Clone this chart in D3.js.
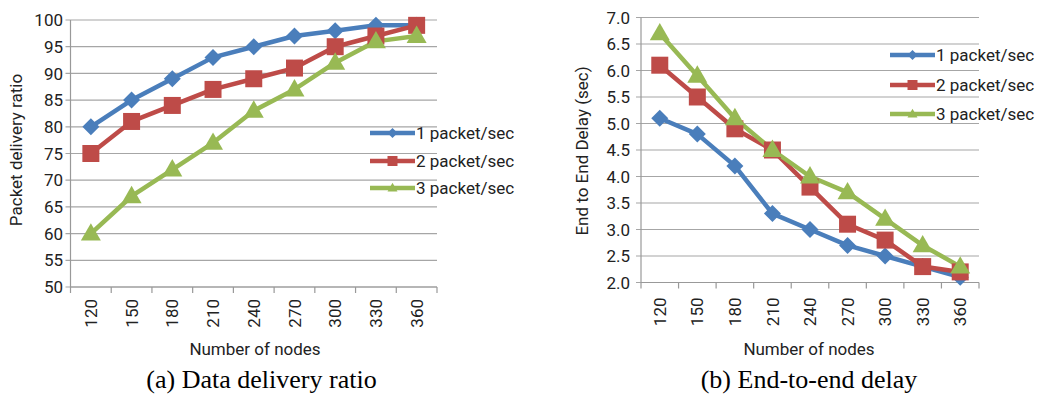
<!DOCTYPE html>
<html>
<head>
<meta charset="utf-8">
<script src="https://cdn.jsdelivr.net/npm/d3@7"></script>
<style>
  body { margin: 0; background: #fff; }
  .lbl { font-family: Roboto, "Open Sans", sans-serif; fill: #222; }
  .caption { font-family: "Liberation Serif", "DejaVu Serif", serif; fill: #000; }
</style>
</head>
<body>
<svg id="fig" width="1044" height="394"></svg>
<script>
// number of nodes on the x axis (same for both panels)
var nodes = ["120", "150", "180", "210", "240", "270", "300", "330", "360"];
var seriesNames = ["1 packet/sec", "2 packet/sec", "3 packet/sec"];

// (a) packet delivery ratio
var pdr1 = [80, 85, 89, 93, 95, 97, 98, 99, 99];
var pdr2 = [75, 81, 84, 87, 89, 91, 95, 97, 99];
var pdr3 = [60, 67, 72, 77, 83, 87, 92, 96, 97];
var pdrTicks = [50, 55, 60, 65, 70, 75, 80, 85, 90, 95, 100];

// (b) end to end delay
var delay1 = [5.1, 4.8, 4.2, 3.3, 3.0, 2.7, 2.5, 2.3, 2.1];
var delay2 = [6.1, 5.5, 4.9, 4.5, 3.8, 3.1, 2.8, 2.3, 2.2];
var delay3 = [6.7, 5.9, 5.1, 4.5, 4.0, 3.7, 3.2, 2.7, 2.3];
var delayTicks = [2.0, 2.5, 3.0, 3.5, 4.0, 4.5, 5.0, 5.5, 6.0, 6.5, 7.0];

var colors = ["#4a7ebb", "#be4b48", "#98b954"];
var shapes = ["diamond", "square", "triangle"];

var svg = d3.select("#fig");

function markerPath(shape, s) {
  // s = full width of the marker
  var h = s / 2;
  if (shape == "diamond") return "M0," + (-h) + "L" + h + ",0L0," + h + "L" + (-h) + ",0Z";
  if (shape == "square") return "M" + (-h) + "," + (-h) + "h" + s + "v" + s + "h" + (-s) + "Z";
  var th = s * 0.87;
  return "M0," + (-th * 0.6) + "L" + h + "," + (th * 0.4) + "L" + (-h) + "," + (th * 0.4) + "Z";
}

function drawPanel(cfg) {
  var g = svg.append("g");

  var x = d3.scaleBand().domain(nodes).range([cfg.left, cfg.right]);
  var y = d3.scaleLinear().domain(cfg.domain).range([cfg.bottom, cfg.top]);

  // gridlines + y tick marks
  g.selectAll("line.grid").data(cfg.ticks).enter().append("line")
    .attr("x1", cfg.left - 5).attr("x2", cfg.right)
    .attr("y1", function(d) { return y(d); }).attr("y2", function(d) { return y(d); })
    .attr("stroke", "#a6a6a6").attr("stroke-width", 1.2);

  g.selectAll("text.ylab").data(cfg.ticks).enter().append("text")
    .attr("class", "lbl")
    .attr("x", cfg.ylabX).attr("y", function(d) { return y(d); })
    .attr("dy", "0.36em").attr("text-anchor", "end")
    .style("font-size", "17px")
    .text(function(d) { return cfg.fmt(d); });

  // axes
  g.append("line").attr("x1", cfg.left).attr("x2", cfg.left)
    .attr("y1", cfg.top).attr("y2", cfg.bottom).attr("stroke", "#999").attr("stroke-width", 1.2);
  g.append("line").attr("x1", cfg.left).attr("x2", cfg.right)
    .attr("y1", cfg.bottom).attr("y2", cfg.bottom).attr("stroke", "#999").attr("stroke-width", 1.2);

  var bounds = nodes.map(function(d) { return x(d); }).concat([cfg.right]);
  g.selectAll("line.xt").data(bounds).enter().append("line")
    .attr("x1", function(d) { return d; }).attr("x2", function(d) { return d; })
    .attr("y1", cfg.bottom).attr("y2", cfg.bottom + 6)
    .attr("stroke", "#999").attr("stroke-width", 1.2);

  g.selectAll("text.xlab").data(nodes).enter().append("text")
    .attr("class", "lbl")
    .attr("transform", function(d) {
      return "translate(" + (x(d) + x.bandwidth() / 2) + "," + (cfg.bottom + cfg.xlabGap) + ") rotate(-90)";
    })
    .attr("text-anchor", "end").attr("dy", "0.36em")
    .style("font-size", "17px")
    .text(function(d) { return d; });

  // axis titles
  g.append("text").attr("class", "lbl").attr("x", cfg.xTitleX).attr("y", 355)
    .attr("text-anchor", "middle").style("font-size", "17px")
    .text("Number of nodes");
  g.append("text").attr("class", "lbl")
    .attr("transform", "translate(" + cfg.yTitleX + "," + cfg.yTitleY + ") rotate(-90)")
    .attr("text-anchor", "middle").attr("dy", "0.36em").style("font-size", "17px")
    .text(cfg.yTitle);

  // lines + markers
  var line = d3.line()
    .x(function(d, i) { return x(nodes[i]) + x.bandwidth() / 2; })
    .y(function(d) { return y(d); });

  cfg.series.forEach(function(vals, k) {
    g.append("path").datum(vals).attr("d", line)
      .attr("fill", "none").attr("stroke", colors[k]).attr("stroke-width", 4.5)
      .attr("stroke-linejoin", "round");
  });
  cfg.series.forEach(function(vals, k) {
    var sz = shapes[k] == "diamond" ? 17 : (shapes[k] == "square" ? 17 : 20);
    g.selectAll("path.m" + k).data(vals).enter().append("path")
      .attr("transform", function(d, i) {
        return "translate(" + (x(nodes[i]) + x.bandwidth() / 2) + "," + y(d) + ")";
      })
      .attr("d", markerPath(shapes[k], sz))
      .attr("fill", colors[k]);
  });

  // legend
  seriesNames.forEach(function(name, k) {
    var ly = cfg.legendY[k];
    g.append("line").attr("x1", cfg.legendX).attr("x2", cfg.legendX + 45)
      .attr("y1", ly).attr("y2", ly).attr("stroke", colors[k]).attr("stroke-width", 4.5);
    g.append("path").attr("transform", "translate(" + (cfg.legendX + 22.5) + "," + ly + ")")
      .attr("d", markerPath(shapes[k], 10)).attr("fill", colors[k]);
    g.append("text").attr("class", "lbl").attr("x", cfg.legendX + 46).attr("y", ly).attr("dy", "0.36em")
      .style("font-size", "17px").text(name);
  });

  // caption
  svg.append("text").attr("class", "caption")
    .attr("x", cfg.captionX).attr("y", 388)
    .attr("text-anchor", "middle")
    .style("font-size", "26px")
    .text(cfg.caption);
}

drawPanel({
  left: 70.5, right: 437, top: 20, bottom: 287,
  domain: [50, 100], ticks: pdrTicks, fmt: d3.format("d"),
  series: [pdr1, pdr2, pdr3],
  ylabX: 63, xlabGap: 12, xTitleX: 255, yTitleX: 16, yTitleY: 150,
  yTitle: "Packet delivery ratio",
  legendX: 370, legendY: [133, 161, 188],
  caption: "(a) Data delivery ratio", captionX: 261.5
});

drawPanel({
  left: 641, right: 979, top: 17.5, bottom: 282.5,
  domain: [2, 7], ticks: delayTicks, fmt: d3.format(".1f"),
  series: [delay1, delay2, delay3],
  ylabX: 630, xlabGap: 15, xTitleX: 809, yTitleX: 582, yTitleY: 151,
  yTitle: "End to End Delay (sec)",
  legendX: 890, legendY: [55, 85, 114],
  caption: "(b) End-to-end delay", captionX: 809
});
</script>
</body>
</html>
